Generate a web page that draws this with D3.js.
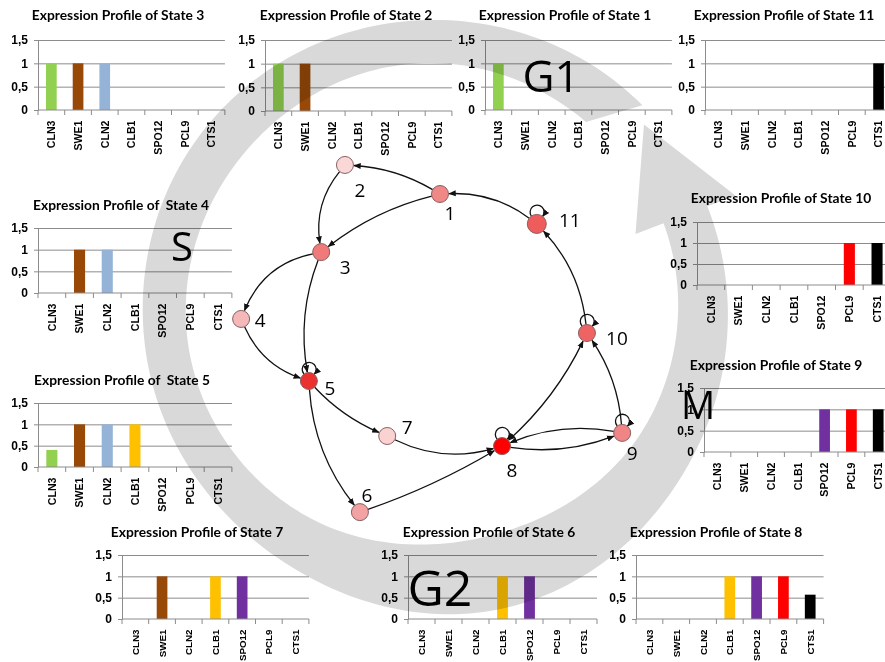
<!DOCTYPE html>
<html>
<head>
<meta charset="utf-8">
<script src="https://cdn.jsdelivr.net/npm/d3@7"></script>
<style>
  body { margin: 0; background: #fff; }
  svg { display: block; font-family: Lato, "Open Sans", sans-serif; }
  .ttl { font-weight: 700; font-size: 13.8px; white-space: pre; }
  .tick text { font-weight: 700; fill: #000; }
</style>
</head>
<body>
<svg id="fig" width="885" height="662"></svg>
<script>
// ---- data -------------------------------------------------------------
const genes = ["CLN3", "SWE1", "CLN2", "CLB1", "SPO12", "PCL9", "CTS1"];
const geneColors = ["#92d050", "#984807", "#95b3d7", "#ffc000", "#7030a0", "#ff0000", "#000000"];
const yTicks = [0, 0.5, 1, 1.5];
const yTickLabels = ["0", "0,5", "1", "1,5"];

// expression level of each gene (order as in `genes`) per state
const state1  = [1, 0, 0, 0, 0, 0, 0];
const state2  = [1, 1, 0, 0, 0, 0, 0];
const state3  = [1, 1, 1, 0, 0, 0, 0];
const state4  = [0, 1, 1, 0, 0, 0, 0];
const state5  = [0.4, 1, 1, 1, 0, 0, 0];
const state6  = [0, 0, 0, 1, 1, 0, 0];
const state7  = [0, 1, 0, 1, 1, 0, 0];
const state8  = [0, 0, 0, 1, 1, 1, 0.57];
const state9  = [0, 0, 0, 0, 1, 1, 1];
const state10 = [0, 0, 0, 0, 0, 1, 1];
const state11 = [0, 0, 0, 0, 0, 0, 1];

const panelTitles = {
  1: "Expression Profile of State 1", 2: "Expression Profile of State 2",
  3: "Expression Profile of State 3", 4: "Expression Profile of  State 4",
  5: "Expression Profile of  State 5", 6: "Expression Profile of State 6",
  7: "Expression Profile of State 7", 8: "Expression Profile of State 8",
  9: "Expression Profile of State 9", 10: "Expression Profile of State 10",
  11: "Expression Profile of State 11"
};
const stateValues = { 1: state1, 2: state2, 3: state3, 4: state4, 5: state5, 6: state6,
                      7: state7, 8: state8, 9: state9, 10: state10, 11: state11 };

// state transition graph
const stateIds     = [1, 2, 3, 4, 5, 6, 7, 8, 9, 10, 11];
const stateLayoutX = [0.500, 0.284, 0.230, 0.048, 0.202, 0.318, 0.380, 0.641, 0.914, 0.834, 0.720];
const stateLayoutY = [0.100, 0.034, 0.232, 0.384, 0.525, 0.823, 0.650, 0.673, 0.643, 0.416, 0.168];
const stateShade   = ["#f08888", "#fad8d8", "#f07a7a", "#f5b8b8", "#eb3030", "#f2a2a2",
                      "#fad2d2", "#ff0000", "#f08585", "#ee6464", "#ee5c5c"];
const transitions = [
  [1, 2], [1, 3], [2, 3], [11, 1], [3, 4], [3, 5], [4, 5], [5, 7], [5, 6],
  [7, 8], [6, 8], [8, 9], [9, 8], [8, 10], [10, 8], [9, 10], [10, 11]
];
const selfLoops = [5, 8, 9, 10, 11];

const phaseNames = ["G1", "S", "G2", "M"];

// ---- panel layout -----------------------------------------------------
const panels = [
  { id: 3,  cx: 118, ty: 15,  x0: 38,  step: 26.7, y0: 110, y15: 40,  lab: 10.6 },
  { id: 2,  cx: 346, ty: 15,  x0: 265, step: 26.7, y0: 111, y15: 40,  lab: 10.6 },
  { id: 1,  cx: 565, ty: 15,  x0: 485, step: 26.7, y0: 110, y15: 40,  lab: 10.6 },
  { id: 11, cx: 784, ty: 15,  x0: 705, step: 26.7, y0: 110, y15: 40,  lab: 10.6 },
  { id: 4,  cx: 121, ty: 205, x0: 38,  step: 27.7, y0: 293, y15: 228, lab: 10.6 },
  { id: 10, cx: 781, ty: 198, x0: 697, step: 27.7, y0: 285, y15: 222, lab: 10.6 },
  { id: 5,  cx: 122, ty: 380, x0: 38,  step: 27.7, y0: 467, y15: 403, lab: 10.6 },
  { id: 9,  cx: 776, ty: 365, x0: 704, step: 26.8, y0: 452, y15: 388, lab: 10.6 },
  { id: 7,  cx: 197, ty: 532, x0: 122, step: 26.7, y0: 619, y15: 555, lab: 9.8 },
  { id: 6,  cx: 489, ty: 532, x0: 408, step: 27.0, y0: 619, y15: 555, lab: 9.8 },
  { id: 8,  cx: 716, ty: 532, x0: 636, step: 26.8, y0: 619, y15: 555, lab: 9.8 }
];

const svg = d3.select("#fig");
const gridColor = "#8c8c8c";

const chartLayer = svg.append("g");
panels.forEach(p => {
  const g = chartLayer.append("g");
  const w = p.step * genes.length;
  const x = d3.scaleBand().domain(genes).range([p.x0, p.x0 + w])
              .paddingInner(0.6).paddingOuter(0.3);
  const y = d3.scaleLinear().domain([0, 1.5]).range([p.y0, p.y15]);
  const vals = stateValues[p.id];

  g.append("text").attr("class", "ttl")
    .attr("x", p.cx).attr("y", p.ty + 5)
    .attr("text-anchor", "middle").text(panelTitles[p.id]);

  // horizontal gridlines
  const grid = g.append("g").attr("transform", `translate(${p.x0},0)`)
    .call(d3.axisLeft(y).tickValues(yTicks.slice(1)).tickSize(-w).tickFormat(""));
  grid.select(".domain").remove();
  grid.selectAll("line").attr("stroke", gridColor);

  // y axis with labels
  const ya = g.append("g").attr("transform", `translate(${p.x0},0)`)
    .call(d3.axisLeft(y).tickValues(yTicks).tickSize(4).tickPadding(6)
          .tickFormat((d, i) => yTickLabels[i]));
  ya.select(".domain").attr("stroke", gridColor);
  ya.selectAll("line").attr("stroke", gridColor);
  ya.selectAll("text").style("font-size", "12px");

  // bars
  g.selectAll("rect").data(genes).join("rect")
    .attr("x", d => x(d)).attr("width", x.bandwidth())
    .attr("y", (d, i) => y(vals[i]))
    .attr("height", (d, i) => y(0) - y(vals[i]))
    .attr("fill", (d, i) => geneColors[i]);

  // category axis: baseline, boundary ticks, rotated labels
  const boundaries = d3.range(genes.length + 1).map(i => p.x0 + i * x.step());
  g.append("line").attr("x1", p.x0).attr("x2", p.x0 + w)
    .attr("y1", y(0)).attr("y2", y(0)).attr("stroke", gridColor);
  g.selectAll(".bt").data(boundaries).join("line").attr("class", "bt")
    .attr("x1", d => d).attr("x2", d => d)
    .attr("y1", y(0)).attr("y2", y(0) + 5).attr("stroke", gridColor);
  const xa = g.append("g").attr("transform", `translate(0,${y(0)})`)
    .call(d3.axisBottom(x).tickSize(0));
  xa.select(".domain").remove();
  xa.selectAll("text")
    .style("font-size", p.lab + "px")
    .attr("transform", "rotate(-90)")
    .attr("text-anchor", "end")
    .attr("x", -10.5).attr("y", 0).attr("dy", "0.36em");
});

// ---- cell-cycle arrow -----------------------------------------------------
// a broad band running anticlockwise round the graph, ending in an arrowhead
const ring = { cx: 432, cy: 312 };
const deg = Math.PI / 180;
const tailOuter = -44.5, tailInner = -51, baseAngle = -381, tipAngle = -401.5;
const keyStart = -43;
const outerR = [295, 292, 292, 289, 290, 305, 298, 295];
const innerR = [244, 249, 246, 246, 240, 231, 242, 248];
function spline(vals) {           // Catmull-Rom through evenly spaced radii
  const n = vals.length - 1;
  return t => {
    const s = Math.max(0, Math.min(n, t * n)), i = Math.min(n - 1, Math.floor(s)), u = s - i;
    const p0 = vals[Math.max(0, i - 1)], p1 = vals[i], p2 = vals[i + 1], p3 = vals[Math.min(n, i + 2)];
    const m1 = (p2 - p0) / 2, m2 = (p3 - p1) / 2;
    const u2 = u * u, u3 = u2 * u;
    return (2 * u3 - 3 * u2 + 1) * p1 + (u3 - 2 * u2 + u) * m1 + (-2 * u3 + 3 * u2) * p2 + (u3 - u2) * m2;
  };
}
const tOf = d3.scaleLinear().domain([keyStart, baseAngle]).range([0, 1]);
const rOut = spline(outerR), rIn = spline(innerR);
const polar = (a, r) => [ring.cx + r * Math.cos(a * deg), ring.cy + r * Math.sin(a * deg)];
const sweep = (a0, a1) => d3.range(a0, a1 - 0.01, -1.5).concat([a1]);
const outerEdge = sweep(tailOuter, baseAngle).map(a => polar(a, rOut(tOf(a))));
const innerEdge = sweep(tailInner, baseAngle).reverse().map(a => polar(a, rIn(tOf(a))));
const arrowPts = outerEdge
  .concat([polar(baseAngle, 325), polar(tipAngle, 283), polar(baseAngle, 218)])
  .concat(innerEdge);
svg.append("path")
  .attr("d", d3.line()(arrowPts) + "Z")
  .attr("fill", "#d9d9d9")
  .style("mix-blend-mode", "multiply");

// phase labels
const phasePos = { G1: [551, 92, 44], S: [182, 261, 40], G2: [440, 606, 50], M: [698, 419, 38] };
svg.selectAll(".phase").data(phaseNames).join("text").attr("class", "phase")
  .attr("x", d => phasePos[d][0]).attr("y", d => phasePos[d][1])
  .attr("text-anchor", "middle")
  .style("font-family", "'Open Sans', sans-serif")
  .style("font-size", d => phasePos[d][2] + "px")
  .text(d => d);

// ---- state transition graph ---------------------------------------------
const gx = d3.scaleLinear().domain([0, 1]).range([220, 660]);
const gy = d3.scaleLinear().domain([0, 1]).range([150, 590]);
const nodeR = id => (id === 11 ? 9.5 : 8.5);
const nodes = new Map(stateIds.map((id, i) => [id, { id, x: gx(stateLayoutX[i]), y: gy(stateLayoutY[i]), fill: stateShade[i] }]));

const defs = svg.append("defs");
[["ah", "auto"], ["ahs", "auto-start-reverse"]].forEach(([id, orient]) => {
  defs.append("marker").attr("id", id)
    .attr("viewBox", "0 0 10 10").attr("refX", 9).attr("refY", 5)
    .attr("markerWidth", 7.5).attr("markerHeight", 7.5).attr("markerUnits", "userSpaceOnUse")
    .attr("orient", orient)
    .append("path").attr("d", "M0,1 L10,5 L0,9 Z").attr("fill", "#111");
});

// bulge of each transition (perpendicular offset of the curve's midpoint)
const bulge = { "1-2": 6, "1-3": 7, "2-3": 10, "11-1": 9, "3-4": 14, "3-5": 9, "4-5": 10,
                "5-7": 5, "5-6": 11, "7-8": 11, "6-8": 4, "8-9": 8, "9-8": 9,
                "8-10": 7, "10-8": -7, "9-10": 7, "10-11": 10 };

const edgeLayer = svg.append("g").attr("fill", "none").attr("stroke", "#111").attr("stroke-width", 1.3);
const keys = new Set(transitions.map(([s, t]) => `${s}-${t}`));
transitions.forEach(([s, t]) => {
  const twoWay = keys.has(`${t}-${s}`) && bulge[`${s}-${t}`] === -bulge[`${t}-${s}`];
  if (twoWay && s > t) return;            // shared curve already drawn
  const a = nodes.get(s), b = nodes.get(t);
  const dx = b.x - a.x, dy = b.y - a.y, len = Math.hypot(dx, dy);
  const nx = -dy / len, ny = dx / len, k = 2 * bulge[`${s}-${t}`];
  const c = [(a.x + b.x) / 2 + nx * k, (a.y + b.y) / 2 + ny * k];
  const trim = (n, r) => {
    const ux = c[0] - n.x, uy = c[1] - n.y, l = Math.hypot(ux, uy);
    return [n.x + ux / l * r, n.y + uy / l * r];
  };
  const p0 = trim(a, nodeR(s) + (twoWay ? 0.5 : 0)), p1 = trim(b, nodeR(t) + 0.5);
  const path = d3.path();
  path.moveTo(p0[0], p0[1]);
  path.quadraticCurveTo(c[0], c[1], p1[0], p1[1]);
  const e = edgeLayer.append("path").attr("d", path.toString()).attr("marker-end", "url(#ah)");
  if (twoWay) e.attr("marker-start", "url(#ahs)");
});

selfLoops.forEach(id => {
  const n = nodes.get(id), r = nodeR(id);
  const a0 = -125 * deg, a1 = -52 * deg;
  const p0 = [n.x + r * Math.cos(a0), n.y + r * Math.sin(a0)];
  const p1 = [n.x + r * Math.cos(a1), n.y + r * Math.sin(a1)];
  edgeLayer.append("path")
    .attr("d", `M${p0[0]},${p0[1]} A7,7 0 1,1 ${p1[0]},${p1[1]}`)
    .attr("marker-end", "url(#ah)");
});

svg.append("g").selectAll("circle").data([...nodes.values()]).join("circle")
  .attr("cx", d => d.x).attr("cy", d => d.y).attr("r", d => nodeR(d.id))
  .attr("fill", d => d.fill).attr("stroke", "#8a6060").attr("stroke-width", 1);

// state numbers beside the nodes
const labelOffset = { 1: [10, 19], 2: [15, 25], 3: [24, 15], 4: [19, 1], 5: [21, 7],
                      6: [7, -17], 7: [20, -9], 8: [10, 24], 9: [10, 20], 10: [30, 5], 11: [33, -4] };
svg.append("g").selectAll("text").data([...nodes.values()]).join("text")
  .attr("x", d => d.x + labelOffset[d.id][0]).attr("y", d => d.y + labelOffset[d.id][1] + 7)
  .attr("text-anchor", "middle")
  .style("font-family", "'Open Sans', sans-serif").style("font-size", "19px")
  .text(d => d.id);
</script>
</body>
</html>
